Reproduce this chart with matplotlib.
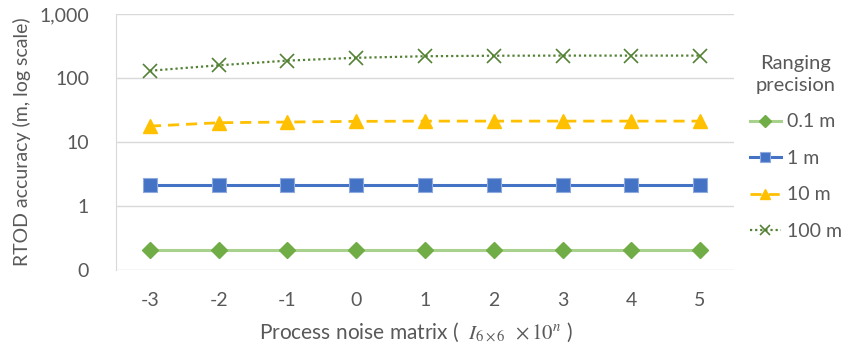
import matplotlib
matplotlib.use("Agg")
import matplotlib.pyplot as plt
from matplotlib.lines import Line2D

plt.rcParams['font.family'] = ['Lato', 'DejaVu Sans']
plt.rcParams['mathtext.fontset'] = 'stix'

x_labels = ["-3", "-2", "-1", "0", "1", "2", "3", "4", "5"]
s01 = [0.208, 0.208, 0.208, 0.208, 0.208, 0.208, 0.208, 0.208, 0.208]
s1 = [2.09, 2.09, 2.09, 2.09, 2.09, 2.09, 2.09, 2.09, 2.09]
s10 = [17.7, 20.0, 20.5, 21.0, 21.2, 21.2, 21.2, 21.2, 21.2]
s100 = [130, 158, 187, 207, 219, 223, 224, 224, 224]
y_ticks = [0.1, 1, 10, 100, 1000]
y_ticklabels = ["0", "1", "10", "100", "1,000"]
series_names = ["0.1 m", "1 m", "10 m", "100 m"]

gray = "#595959"
fig = plt.figure(figsize=(8.5, 3.51), dpi=100)
ax = fig.add_axes([0.136, 0.231, 0.728, 0.729])

xs = list(range(len(x_labels)))
l1, = ax.plot(xs, s01, color="#A9D18E", lw=2.2, marker="D", ms=8.5,
              mfc="#70AD47", mec="#70AD47", label=series_names[0])
l2, = ax.plot(xs, s1, color="#4472C4", lw=2.2, marker="s", ms=10.5,
              mfc="#4472C4", mec="#8FAADC", mew=0.8, label=series_names[1])
l3, = ax.plot(xs, s10, color="#FFC000", lw=2.0, ls=(0, (4, 2.5)), marker="^", ms=10,
              mfc="#FFC000", mec="#FFC000", label=series_names[2])
l4, = ax.plot(xs, s100, color="#548235", lw=1.6, ls=(0, (1, 1.3)), marker="x", ms=10,
              mew=1.2, mec="#548235", label=series_names[3])

ax.set_yscale("log")
ax.set_ylim(0.1, 1000)
ax.set_xlim(-0.5, len(xs) - 0.5)
ax.set_yticks(y_ticks)
ax.set_yticklabels(y_ticklabels)
ax.minorticks_off()
ax.set_xticks(xs)
ax.set_xticklabels(x_labels)
ax.tick_params(axis="both", length=0, labelsize=14, colors=gray)
ax.tick_params(axis="y", pad=19)
ax.tick_params(axis="x", pad=16)
ax.yaxis.grid(True, color="#D9D9D9", lw=1)
ax.set_axisbelow(True)
for s in ["top", "right", "bottom"]:
    ax.spines[s].set_visible(False)
ax.spines["left"].set_color("#D9D9D9")

ax.set_ylabel("RTOD accuracy (m, log scale)", fontsize=14, color=gray, labelpad=6)
ax.set_xlabel(r"Process noise matrix (  $I_{6\times6}$  $\times\, 10^{n}$ )", fontsize=15,
              color=gray, labelpad=8)
ax.xaxis.label.set_x(0.485)

leg = fig.legend(handles=[l1, l2, l3, l4], title="Ranging\nprecision",
                 loc="center left", bbox_to_anchor=(0.866, 0.58), frameon=False,
                 fontsize=14, title_fontsize=14.5, handlelength=1.6, handletextpad=0.3,
                 labelspacing=1.0, markerscale=0.7, borderaxespad=0.3)
leg.get_title().set_color(gray)
leg.get_title().set_multialignment("center")
leg.get_title().set_linespacing(1.35)
for t in leg.get_texts():
    t.set_color(gray)

fig.savefig("out.png", dpi=100)
